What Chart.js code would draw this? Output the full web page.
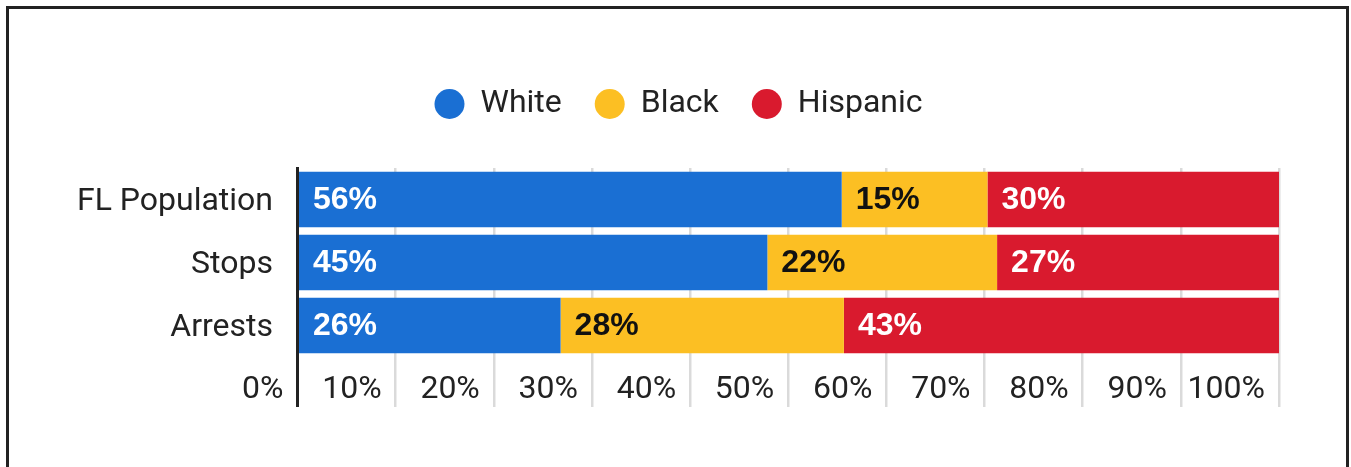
<!DOCTYPE html>
<html lang="en">
<head>
  <meta charset="UTF-8" />
  <title>Stops and arrests by race</title>
  <script src="https://cdn.jsdelivr.net/npm/chart.js"></script>
  <style>
    body {
      margin: 0;
      background: #fff;
    }
    .frame {
      position: absolute;
      left: 6px;
      top: 6px;
      width: 1337px;
      height: 470px;
      border: 3px solid #222;
      background: #fff;
    }
    canvas {
      display: block;
    }
  </style>
</head>
<body>
  <div class="frame">
    <canvas id="chart" width="1337" height="458"></canvas>
  </div>

  <script>
    const categories = ['FL Population', 'Stops', 'Arrests'];
    const white = [56, 45, 26];
    const black = [15, 22, 28];
    const hispanic = [30, 27, 43];
    const xTicks = [0, 10, 20, 30, 40, 50, 60, 70, 80, 90, 100];

    const colors = ['#1a6fd3', '#fcbf23', '#d91a2e'];
    const labelColors = ['#fff', '#111', '#fff'];
    const FONT = 'Roboto, "Liberation Sans", sans-serif';

    // each row is stretched to 100% of its own total
    const totals = categories.map((c, i) => white[i] + black[i] + hispanic[i]);
    const share = arr => arr.map((v, i) => v / totals[i] * 100);

    // writes the stated percentage at the left edge of every bar segment
    const barLabels = {
      id: 'barLabels',
      afterDatasetsDraw(chart) {
        const ctx = chart.ctx;
        ctx.save();
        ctx.font = 'bold 32px "Liberation Sans", Arial, sans-serif';
        ctx.textBaseline = 'middle';
        ctx.textAlign = 'left';
        chart.data.datasets.forEach((ds, d) => {
          const meta = chart.getDatasetMeta(d);
          meta.data.forEach((bar, i) => {
            const { x, base, y } = bar.getProps(['x', 'base', 'y'], true);
            ctx.fillStyle = labelColors[d];
            ctx.fillText(ds.raw[i] + '%', Math.min(x, base) + 14, y + 1);
          });
        });
        ctx.restore();
      }
    };

    // extra room between the legend and the bars
    const legendGap = {
      id: 'legendGap',
      beforeInit(chart) {
        const fit = chart.legend.fit;
        chart.legend.fit = function () {
          fit.call(this);
          this.height += 38;
        };
      }
    };

    new Chart(document.getElementById('chart'), {
      type: 'bar',
      data: {
        labels: categories,
        datasets: [
          { label: 'White', raw: white, data: share(white), backgroundColor: colors[0] },
          { label: 'Black', raw: black, data: share(black), backgroundColor: colors[1] },
          { label: 'Hispanic', raw: hispanic, data: share(hispanic), backgroundColor: colors[2] }
        ]
      },
      options: {
        indexAxis: 'y',
        responsive: false,
        animation: false,
        layout: { padding: { top: 46, left: 69, right: 67, bottom: 50 } },
        datasets: {
          bar: { categoryPercentage: 1, barPercentage: 0.88 }
        },
        scales: {
          x: {
            stacked: true,
            min: 0,
            max: 100,
            afterBuildTicks: s => { s.ticks = xTicks.map(v => ({ value: v })); },
            afterFit: s => { s.height = 60; },
            border: { display: false },
            grid: {
              color: c => c.index === 0 ? '#222' : '#dadada',
              lineWidth: c => c.index === 0 ? 3 : 2.5,
              tickLength: 50
            },
            ticks: {
              autoSkip: false,
              maxRotation: 0,
              align: 'end',
              labelOffset: -14,
              padding: -36,
              color: '#222',
              font: { family: FONT, size: 32 },
              callback: v => v + '%'
            }
          },
          y: {
            stacked: true,
            z: 1,
            afterFit: s => { s.width = 219.5; },
            border: { display: true, color: '#222', width: 3 },
            grid: { display: false, drawTicks: false },
            ticks: {
              padding: 24.5,
              labelOffset: 2.5,
              color: '#222',
              font: { family: FONT, size: 32 }
            }
          }
        },
        plugins: {
          tooltip: { enabled: false },
          legend: {
            position: 'top',
            labels: {
              usePointStyle: true,
              pointStyle: 'circle',
              pointStyleWidth: 30,
              boxHeight: 21.2,
              padding: 33,
              color: '#222',
              font: { family: FONT, size: 32 }
            }
          }
        }
      },
      plugins: [barLabels, legendGap]
    });
  </script>
</body>
</html>
